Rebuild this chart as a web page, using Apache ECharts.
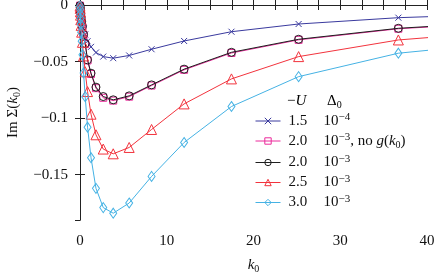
<!DOCTYPE html>
<html><head><meta charset="utf-8">
<script src="https://cdn.jsdelivr.net/npm/echarts@6/dist/echarts.min.js"></script>
<style>html,body{margin:0;padding:0;background:#fff}#c{width:436px;height:273px}</style>
</head><body><div id="c"></div>
<script>
// k0 grid (shared by all series)
const kValues = [0, 0.02, 0.04, 0.06, 0.09, 0.13, 0.19, 0.28, 0.41, 0.6, 0.87, 1.27, 1.84, 2.68, 3.83, 5.67, 8.25, 12.0, 17.46, 25.2, 36.7, 53.4];
// Im Sigma(k0) values
const u15_d4 = [-0.0003, -0.0015, -0.003, -0.0045, -0.0065, -0.009, -0.012, -0.016, -0.021, -0.026, -0.032, -0.037, -0.042, -0.0456, -0.047, -0.0446, -0.0391, -0.0318, -0.0236, -0.0168, -0.0112, -0.007];
const u20_d3_nog = [-0.0006, -0.002, -0.004, -0.006, -0.0085, -0.0115, -0.015, -0.0195, -0.0265, -0.0345, -0.049, -0.061, -0.0735, -0.082, -0.0845, -0.081, -0.0712, -0.0573, -0.0424, -0.0308, -0.021, -0.0135];
const u20_d3 = [-0.0005, -0.002, -0.004, -0.006, -0.008, -0.011, -0.0145, -0.019, -0.026, -0.034, -0.0485, -0.0603, -0.0726, -0.0809, -0.0838, -0.0803, -0.0706, -0.0567, -0.0418, -0.0303, -0.0206, -0.013];
const u25_d3 = [-0.001, -0.003, -0.006, -0.009, -0.013, -0.018, -0.024, -0.033, -0.045, -0.059, -0.0765, -0.0965, -0.1147, -0.1273, -0.1315, -0.1259, -0.110, -0.0874, -0.0653, -0.0456, -0.0309, -0.0207];
const u30_d3 = [-0.001, -0.004, -0.008, -0.012, -0.017, -0.024, -0.032, -0.044, -0.060, -0.081, -0.108, -0.135, -0.162, -0.179, -0.184, -0.175, -0.1515, -0.1215, -0.0897, -0.0633, -0.0426, -0.030];
// legend columns
const seriesNames = ['s15', 's20nog', 's20', 's25', 's30'];
const uLabels = ['1.5', '2.0', '2.0', '2.5', '3.0'];
const deltaExp = ['−4', '−3', '−3', '−3', '−3'];
const extraLabel = ['', 'nog', '', '', ''];
// axis ticks
const xTickLabels = [0, 10, 20, 30, 40];

const FONT = 'Liberation Serif';
const colors = ['#3a3a9e', '#ec2a9c', '#1e1e1e', '#f2333d', '#45b2e4'];
const symbols = ['path://M0,0L10,10M10,0L0,10', 'rect', 'circle', 'triangle', 'diamond'];
const symbolSizes = [6, 7, 8, 10, [7, 10]];
const dataSets = [u15_d4, u20_d3_nog, u20_d3, u25_d3, u30_d3];

const series = dataSets.map((vals, i) => ({
  name: seriesNames[i],
  type: 'line',
  data: kValues.map((k, j) => [k, vals[j]]),
  symbol: symbols[i],
  symbolSize: symbolSizes[i],
  showAllSymbol: true,
  clip: true,
  z: 2 + i,
  lineStyle: { color: colors[i], width: 1 },
  itemStyle: { color: 'transparent', borderColor: colors[i], borderWidth: 1 },
  emphasis: { disabled: true },
  animation: false
}));

const rich = {
  u: { fontFamily: FONT, fontSize: 15, lineHeight: 18, width: 35, color: '#111', padding: [0, 0, 0, 3] },
  n: { fontFamily: FONT, fontSize: 15, lineHeight: 18, color: '#111' },
  it: { fontFamily: FONT, fontSize: 15, lineHeight: 18, fontStyle: 'italic', color: '#111' },
  sup: { fontFamily: FONT, fontSize: 11, lineHeight: 8, verticalAlign: 'top', color: '#111' },
  sub: { fontFamily: FONT, fontSize: 10, lineHeight: 12, verticalAlign: 'bottom', color: '#111' }
};

const chart = echarts.init(document.getElementById('c'), null, { renderer: 'canvas' });
chart.setOption({
  animation: false,
  backgroundColor: '#fff',
  grid: { left: 80, right: 9, top: 5, bottom: 53, containLabel: false, outerBoundsMode: 'none' },
  xAxis: [{
    type: 'value', min: 0, max: 40, interval: 2.5, position: 'bottom',
    axisLine: { lineStyle: { color: '#222', width: 1 } },
    axisTick: { inside: true, length: 5, lineStyle: { color: '#222' } },
    splitLine: { show: false },
    axisLabel: { margin: 14, fontFamily: FONT, fontSize: 15, color: '#111',
      formatter: v => (xTickLabels.indexOf(v) >= 0 ? String(v) : '') },
    name: '{it|k}{sub|0}', nameLocation: 'middle', nameGap: 36,
    nameTextStyle: { rich: rich }
  }, {
    type: 'value', min: 0, max: 40, interval: 2.5, position: 'top',
    axisLine: { lineStyle: { color: '#222', width: 1 } },
    axisTick: { inside: true, length: 5, lineStyle: { color: '#222' } },
    splitLine: { show: false }, axisLabel: { show: false }
  }],
  yAxis: [{
    type: 'value', min: -0.19, max: 0, splitNumber: 4, minInterval: 0.05, maxInterval: 0.05,
    position: 'left',
    axisLine: { lineStyle: { color: '#222', width: 1 } },
    axisTick: { inside: true, length: 5, lineStyle: { color: '#222' } },
    splitLine: { show: false },
    axisLabel: { margin: 12, fontFamily: FONT, fontSize: 15, color: '#111', showMinLabel: false,
      formatter: v => (Math.abs(v) < 1e-9 ? '0' : '−' + (+Math.abs(v).toFixed(3))) },
    name: '{n|Im Σ(}{it|k}{sub|0}{n|)}', nameLocation: 'middle', nameGap: 58, nameRotate: 90,
    nameTextStyle: { rich: rich }
  }, {
    type: 'value', min: -0.19, max: 0, splitNumber: 4, minInterval: 0.05, maxInterval: 0.05,
    position: 'right',
    axisLine: { lineStyle: { color: '#222', width: 1 } },
    axisTick: { inside: true, length: 5, lineStyle: { color: '#222' } },
    splitLine: { show: false }, axisLabel: { show: false }
  }],
  legend: {
    orient: 'vertical', left: 255, top: 112, padding: 0,
    itemWidth: 25, itemHeight: 8, itemGap: 3.5,
    data: seriesNames.map((n, i) => ({
      name: n,
      itemStyle: { color: 'transparent', borderColor: colors[i], borderWidth: 1 },
      lineStyle: { color: colors[i], width: 1 }
    })),
    selectedMode: false,
    formatter: name => {
      const i = seriesNames.indexOf(name);
      let s = '{u|' + uLabels[i] + '}{n|10}{sup|' + deltaExp[i] + '}';
      if (extraLabel[i] === 'nog') s += '{n|, no }{it|g}{n|(}{it|k}{sub|0}{n|)}';
      return s;
    },
    textStyle: { rich: rich }
  },
  graphic: [
    { type: 'text', x: 287, y: 92, style: { text: '{n|−}{it|U}', rich: rich } },
    { type: 'text', x: 327, y: 92, style: { text: '{n|Δ}{sub|0}', rich: rich } }
  ],
  series: series
});
</script>
</body></html>
